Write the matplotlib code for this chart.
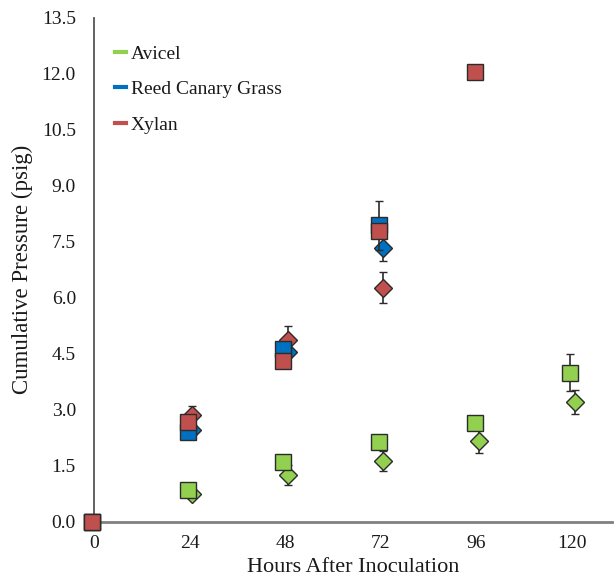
import matplotlib.pyplot as plt
import matplotlib.transforms as mtransforms
import numpy as np

plt.rcParams['font.family'] = ['Liberation Serif', 'DejaVu Serif']

# hours after inoculation
hours = [0, 24, 48, 72, 96, 120]
dm_hours = [24, 48, 72, 96, 120]

# square markers (cumulative pressure, psig)
avicel_sq = [0.0, 0.85, 1.59, 2.13, 2.64, 3.99]
avicel_sq_err = [0.0, 0.05, 0.05, 0.05, 0.05, 0.50]
rcg_sq = [0.0, 2.40, 4.63, 7.94]
rcg_sq_err = [0.0, 0.05, 0.05, 0.65]
xylan_sq = [0.0, 2.67, 4.31, 7.78, 12.06]
xylan_sq_err = [0.0, 0.05, 0.05, 0.05, 0.05]

# diamond markers (from 24 h)
avicel_dm = [0.73, 1.24, 1.62, 2.15, 3.20]
avicel_dm_err = [0.05, 0.27, 0.27, 0.30, 0.33]
rcg_dm = [2.45, 4.55, 7.33]
rcg_dm_err = [0.05, 0.05, 0.35]
xylan_dm = [2.85, 4.87, 6.27]
xylan_dm_err = [0.25, 0.37, 0.42]

yticks = np.arange(0, 13.6, 1.5)

green = '#92D050'
blue = '#0070C0'
red = '#C0504D'
edge = '#2b2b2b'
txt = '#1a1a1a'

fig = plt.figure(figsize=(6.16, 5.82), dpi=100)
ax = fig.add_axes([94 / 616, (582 - 521.5) / 582, 518 / 616, 503.5 / 582])

# small horizontal nudges so diamonds peek out beside squares
dm_shift = ax.transData + mtransforms.ScaledTranslation(2.5 / 100, 0, fig.dpi_scale_trans)
sq_shift = ax.transData + mtransforms.ScaledTranslation(-2 / 100, 0, fig.dpi_scale_trans)

# diamonds first, squares on top
for vals, errs, c in [(avicel_dm, avicel_dm_err, green),
                      (rcg_dm, rcg_dm_err, blue),
                      (xylan_dm, xylan_dm_err, red)]:
    ax.errorbar(dm_hours[:len(vals)], vals, yerr=errs, fmt='D', ms=9, mfc=c,
                mec=edge, mew=1.0, ecolor=edge, elinewidth=1.2, capsize=3,
                zorder=3, transform=dm_shift, clip_on=False)

for vals, errs, c in [(avicel_sq, avicel_sq_err, green),
                      (rcg_sq, rcg_sq_err, blue),
                      (xylan_sq, xylan_sq_err, red)]:
    ax.errorbar(hours[:len(vals)], vals, yerr=errs, fmt='s', ms=12, mfc=c,
                mec=edge, mew=1.0, ecolor=edge, elinewidth=1.2, capsize=3,
                zorder=4, transform=sq_shift, clip_on=False)

# legend with short dash swatches
for name, c in [('Avicel', green), ('Reed Canary Grass', blue), ('Xylan', red)]:
    ax.plot([], [], color=c, lw=3, label=name)
leg = fig.legend(loc='upper left', bbox_to_anchor=(115 / 616, 1 - 45 / 582),
                 frameon=False, fontsize=14, handlelength=0.55,
                 handletextpad=0.25, labelspacing=0.92, borderpad=0,
                 borderaxespad=0)
for t in leg.get_texts():
    t.set_color(txt)

ax.set_xlim(0, 130)
ax.set_ylim(0, 13.5)
ax.set_xticks(hours)
ax.set_yticks(yticks)
ax.set_yticklabels([f'{v:.1f}' for v in yticks])
ax.tick_params(length=0, labelsize=14, colors=txt)
ax.tick_params(axis='x', pad=10)
ax.tick_params(axis='y', pad=13)

for s in ['top', 'right']:
    ax.spines[s].set_visible(False)
ax.spines['left'].set_color('#555555')
ax.spines['bottom'].set_color('#808080')
ax.spines['bottom'].set_linewidth(2)
ax.spines['left'].set_linewidth(1.3)
ax.spines['left'].set_zorder(1)
ax.spines['bottom'].set_zorder(1)

ax.set_xlabel('Hours After Inoculation', fontsize=16, labelpad=4, color=txt)
ax.set_ylabel('Cumulative Pressure (psig)', fontsize=16.5, labelpad=6, color=txt)

fig.savefig('out.png', dpi=100, facecolor='white')
